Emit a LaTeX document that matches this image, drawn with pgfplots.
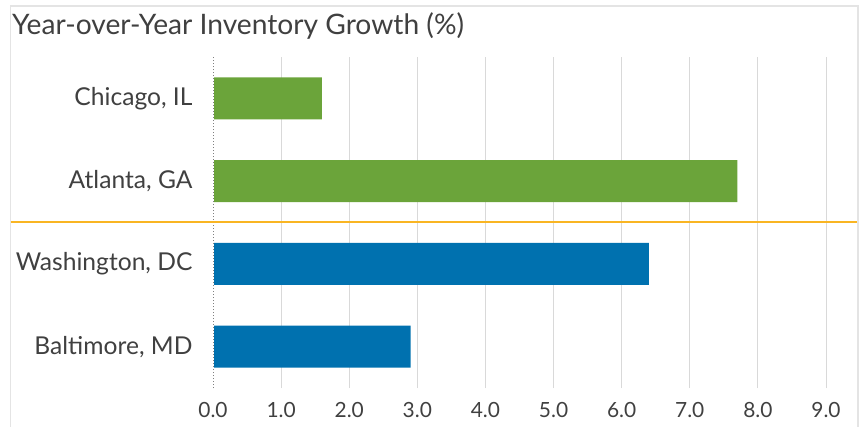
\documentclass[border=0pt]{standalone}
\usepackage{pgfplots}
\pgfplotsset{compat=1.18}
\usepackage{fontspec}
\setmainfont{Lato}
\definecolor{txt}{HTML}{404040}
\definecolor{gbar}{HTML}{6BA43A}
\definecolor{bbar}{HTML}{0071AF}
\definecolor{orng}{HTML}{F9B523}
\definecolor{grd}{HTML}{D9D9D9}
\begin{document}
\begin{tikzpicture}
\useasboundingbox (0,0) rectangle (862bp,427bp);
\draw[color=grd!70, line width=1.2bp] (10.5bp,-5bp) -- (10.5bp,421bp) -- (858bp,421bp) -- (858bp,-5bp);
\node[anchor=base west, text=txt, font=\fontsize{28.3}{33}\selectfont, inner sep=0pt] at (12bp,392bp) {Year-over-Year Inventory Growth (\%)};
\begin{axis}[
  at={(213bp,39bp)}, anchor=south west,
  scale only axis, width=613bp, height=331bp,
  xbar, bar width=0.51, bar shift=0pt,
  xmin=0, xmax=9, ymin=-0.5, ymax=3.5,
  xtick={0,1,...,9},
  ytick={0,1,2,3},
  yticklabels={Baltimore{,} MD, Washington{,} DC, Atlanta{,} GA, Chicago{,} IL},
  xticklabel={\pgfmathprintnumber[fixed,fixed zerofill,precision=1]{\tick}},
  /pgf/number format/assume math mode=true,
  xmajorgrids, grid style={grd, line width=0.9bp},
  axis line style={draw=none},
  major tick length=0pt,
  xticklabel style={text=txt, font=\fontsize{21}{25}\selectfont, yshift=-11bp},
  yticklabel style={text=txt, font=\fontsize{24.7}{29}\selectfont, xshift=-17bp},
  clip=false,
]
\addplot[draw=none, fill=gbar] coordinates {(1.6,3) (7.7,2)};
\addplot[draw=none, fill=bbar] coordinates {(6.4,1) (2.9,0)};
\addplot[xbar=false, sharp plot, draw=white, line width=1.2bp] coordinates {(0,-0.5) (0,3.5)};
\addplot[xbar=false, sharp plot, draw=gray, line width=0.8bp, dash pattern=on 1.5bp off 1.5bp] coordinates {(0,-0.5) (0,3.5)};
\addplot[xbar=false, sharp plot, draw=orng, line width=2bp] coordinates {(-2.97,1.5) (9.46,1.5)};
\end{axis}
\end{tikzpicture}
\end{document}
